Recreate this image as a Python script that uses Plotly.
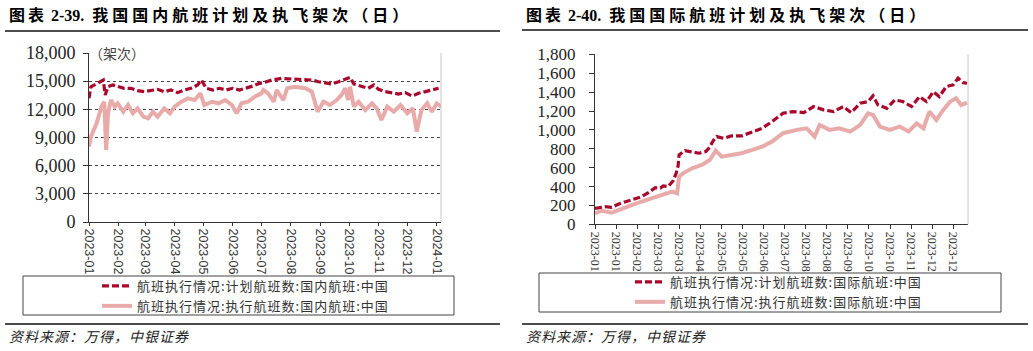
import plotly.graph_objects as go
import pandas as pd

W, H = 1033, 351
BASE = pd.Timestamp("2023-01-01")

# ---------------- data (day offset from 2023-01-01, values in 架次) ----------------
dom_plan_day = [0, 2, 9, 15, 17, 20, 25, 30, 37, 44, 51, 58, 65, 72, 79, 86, 93, 100, 107, 114,
                118, 123, 130, 137, 144, 151, 158, 165, 172, 179, 183, 192, 202, 213, 223, 234, 241, 248, 255, 262,
                269, 274, 278, 286, 293, 299, 304, 311, 318, 325, 332, 339, 346, 353, 360, 367]
dom_plan_val = [13170, 14410, 14770, 15120, 13530, 14410, 14590, 14410, 14240, 14240, 13990, 13880, 13990, 14130, 13880,
                14060, 13780, 14060, 14240, 14590, 15120, 14240, 14060, 14240, 14060, 14240, 14060, 14240, 14480, 14770,
                14840, 15120, 15300, 15230, 15190, 15120, 14940, 14840, 14700, 14940, 15190, 15410, 14700, 14410, 14240,
                14590, 14130, 13880, 13780, 13630, 13780, 13420, 13710, 13880, 14130, 14240]

dom_exec_day = [0, 2, 8, 13, 16, 18, 20, 23, 27, 30, 36, 41, 46, 51, 57, 62, 67, 72, 79, 85,
                90, 97, 104, 111, 117, 121, 129, 136, 143, 150, 155, 160, 167, 174, 181, 183, 188, 194, 197, 204,
                208, 216, 227, 234, 240, 246, 253, 260, 265, 269, 272, 274, 278, 283, 290, 297, 302, 307, 313, 320,
                327, 334, 340, 344, 349, 355, 360, 365, 370]
dom_exec_val = [8020, 9090, 10510, 12280, 12810, 7670, 11580, 12990, 12280, 12640, 11750, 12460, 11580, 12100, 11220,
                11040, 11750, 11220, 12100, 11580, 12280, 12810, 13170, 12990, 13700, 12460, 12810, 12640, 12990, 12460,
                11580, 12640, 12810, 13350, 13700, 14060, 13700, 12810, 14060, 12990, 14240, 14410, 14240, 13880, 11750,
                12810, 12460, 12990, 13530, 14240, 12990, 14410, 12280, 12810, 11930, 12640, 12100, 10860, 12280, 11750,
                12460, 11580, 12100, 9620, 11930, 12640, 11750, 12640, 12280]

intl_plan_day = [0, 10, 17, 24, 31, 41, 47, 54, 61, 66, 69, 74, 79, 82, 84, 85, 91, 98, 105, 112,
                 115, 120, 123, 130, 138, 148, 159, 169, 179, 187, 190, 200, 211, 221, 231, 241, 251, 259, 268, 276,
                 281, 286, 295, 303, 311, 320, 328, 335, 342, 348, 355, 362, 367, 372, 376]
intl_plan_val = [170, 187, 181, 216, 240, 276, 293, 336, 389, 385, 406, 400, 463, 541, 618, 735, 781, 767, 753, 770,
                 806, 894, 929, 911, 936, 936, 982, 1017, 1088, 1158, 1176, 1194, 1183, 1247, 1212, 1194, 1247, 1183, 1282, 1300,
                 1360, 1264, 1229, 1317, 1300, 1247, 1352, 1300, 1405, 1352, 1458, 1476, 1547, 1500, 1494]

intl_exec_day = [0, 7, 17, 27, 37, 47, 58, 68, 78, 83, 85, 89, 98, 108, 116, 122, 128, 138, 148, 159,
                 169, 179, 187, 190, 204, 214, 222, 227, 237, 247, 258, 268, 276, 281, 288, 298, 308, 317, 325, 332,
                 338, 345, 352, 359, 365, 370, 376]
intl_exec_val = [117, 145, 124, 170, 205, 240, 276, 311, 346, 328, 505, 541, 594, 629, 682, 781, 717, 735, 753, 788,
                 823, 876, 947, 965, 1000, 1017, 929, 1053, 1000, 1017, 982, 1053, 1176, 1158, 1035, 1000, 1035, 982, 1070, 1017,
                 1194, 1105, 1211, 1300, 1335, 1264, 1289]

intl_tick_text = ["2023-01", "2023-01", "2023-02", "2023-03", "2023-03", "2023-04", "2023-05", "2023-05", "2023-06",
                  "2023-07", "2023-08", "2023-08", "2023-09", "2023-10", "2023-10", "2023-11", "2023-12", "2023-12"]

names = {
    "dp": "航班执行情况:计划航班数:国内航班:中国",
    "de": "航班执行情况:执行航班数:国内航班:中国",
    "ip": "航班执行情况:计划航班数:国际航班:中国",
    "ie": "航班执行情况:执行航班数:国际航班:中国",
}
title_prefix = ["图表 2-39.", "图表 2-40."]
title_body = ["我国国内航班计划及执飞架次（日）", "我国国际航班计划及执飞架次（日）"]
source = "资料来源：万得，中银证券"
unit_text = "（架次）"

PLAN_C = "#A9072B"
EXEC_C = "#E9ABAA"


def dates(days):
    return BASE + pd.to_timedelta(days, unit="D")


def fx(px):
    return px / W


def fy(py):
    return 1 - py / H


def spaced(t, s):
    return f'<span style="letter-spacing:{s}px">{t}</span>'


fig = go.Figure()
fig.add_trace(go.Scatter(x=dates(dom_exec_day), y=dom_exec_val, mode="lines", name=spaced(names["de"], 1),
                         line=dict(color=EXEC_C, width=4), xaxis="x", yaxis="y", legend="legend", legendrank=2))
fig.add_trace(go.Scatter(x=dates(dom_plan_day), y=dom_plan_val, mode="lines", name=spaced(names["dp"], 1),
                         line=dict(color=PLAN_C, width=3.2, dash="7px,3px"), xaxis="x", yaxis="y", legend="legend", legendrank=1))
fig.add_trace(go.Scatter(x=dates(intl_exec_day), y=intl_exec_val, mode="lines", name=spaced(names["ie"], 1),
                         line=dict(color=EXEC_C, width=4), xaxis="x2", yaxis="y2", legend="legend2", legendrank=2))
fig.add_trace(go.Scatter(x=dates(intl_plan_day), y=intl_plan_val, mode="lines", name=spaced(names["ip"], 1),
                         line=dict(color=PLAN_C, width=3.2, dash="7px,3px"), xaxis="x2", yaxis="y2", legend="legend2", legendrank=1))

tick_font_x1 = dict(family="Liberation Sans, Arial", size=12.5, color="#333")
tick_font_x2 = dict(family="Liberation Serif, Times New Roman", size=12, color="#333")
tick_font_y1 = dict(family="Liberation Serif, Times New Roman", size=18, color="#222")
tick_font_y2 = dict(family="Liberation Serif, Times New Roman", size=17, color="#222")

right_ticks = [BASE + pd.Timedelta(days=21.3 * k) for k in range(len(intl_tick_text))]

fig.update_layout(
    width=W, height=H, autosize=False,
    margin=dict(l=0, r=0, t=0, b=0, pad=0),
    paper_bgcolor="white", plot_bgcolor="white",
    xaxis=dict(domain=[fx(89), fx(441)], anchor="y", type="date", automargin=False,
               range=[BASE, BASE + pd.Timedelta(days=369.5)],
               tick0="2023-01-01", dtick="M1", tickformat="%Y-%m", tickangle=90,
               tickfont=tick_font_x1, ticks="outside", ticklen=3, tickcolor="#333",
               showline=True, linecolor="#333", linewidth=1, showgrid=False, zeroline=False),
    yaxis=dict(domain=[fy(222), fy(53)], anchor="x", range=[0, 18000], dtick=3000, tickformat=",d",
               automargin=False, ticklabelstandoff=4,
               tickfont=tick_font_y1, ticks="outside", ticklen=5, tickcolor="#333",
               showline=True, linecolor="#333", linewidth=1,
               showgrid=True, gridcolor="#444", griddash="dot", gridwidth=1, zeroline=False),
    xaxis2=dict(domain=[fx(595), fx(968)], anchor="y2", type="date", automargin=False,
                range=[BASE, BASE + pd.Timedelta(days=377)],
                tickvals=right_ticks, ticktext=intl_tick_text, tickangle=90,
                tickfont=tick_font_x2, ticks="outside", ticklen=4, tickcolor="#333",
                showline=True, linecolor="#333", linewidth=1, showgrid=False, zeroline=False),
    yaxis2=dict(domain=[fy(224.4), fy(54.3)], anchor="x2", range=[0, 1800], dtick=200, tickformat=",d",
                automargin=False,
                tickfont=tick_font_y2, ticks="outside", ticklen=5, tickcolor="#333", ticklabelstandoff=10,
                showline=True, linecolor="#333", linewidth=1, showgrid=False, zeroline=False),
    legend=dict(x=fx(97), y=fy(271), xanchor="left", yanchor="top", bgcolor="rgba(0,0,0,0)", borderwidth=0,
                font=dict(family="Noto Sans CJK SC", size=13, color="#333"), itemclick=False, itemdoubleclick=False),
    legend2=dict(x=fx(630), y=fy(267), xanchor="left", yanchor="top", bgcolor="rgba(0,0,0,0)", borderwidth=0,
                 font=dict(family="Noto Sans CJK SC", size=13, color="#333"), itemclick=False, itemdoubleclick=False),
)

shapes = []
# title / footer rules
for (x0, x1, y) in [(5, 500, 31), (522, 1028, 30), (5, 500, 324), (522, 1028, 324)]:
    shapes.append(dict(type="line", xref="paper", yref="paper", x0=fx(x0), x1=fx(x1), y0=fy(y), y1=fy(y),
                       line=dict(color="#111", width=1.5)))
# legend boxes
for (x0, y0, x1, y1) in [(23, 276, 454, 315), (539, 273, 1001, 312)]:
    shapes.append(dict(type="rect", xref="paper", yref="paper", x0=fx(x0), x1=fx(x1), y0=fy(y1), y1=fy(y0),
                       line=dict(color="#444", width=1), fillcolor="rgba(0,0,0,0)"))
# right frame lines
for xr, yr in [("x domain", "y domain"), ("x2 domain", "y2 domain")]:
    shapes.append(dict(type="line", xref=xr, yref=yr, x0=1, x1=1, y0=0, y1=1, line=dict(color="#c8c8c8", width=1)))
fig.update_layout(shapes=shapes)

ann = []
for p, b, x in zip(title_prefix, title_body, [7, 524]):
    ann.append(dict(text="<b>" + spaced(p.split(" ")[0], 3) + " " + p.split(" ")[1] + "  " + spaced(b, 4) + "</b>",
                    xref="paper", yref="paper", x=fx(x), y=fy(15),
                    xanchor="left", yanchor="middle", showarrow=False,
                    font=dict(family="Liberation Serif, Noto Sans CJK SC", size=16, color="#000")))
for x in [7, 524]:
    ann.append(dict(text="<i>" + spaced(source, 1) + "</i>", xref="paper", yref="paper", x=fx(x), y=fy(336),
                    xanchor="left", yanchor="middle", showarrow=False,
                    font=dict(family="Noto Sans CJK SC", size=14, color="#222")))
ann.append(dict(text=unit_text, xref="paper", yref="paper", x=fx(117), y=fy(53), xanchor="center", yanchor="middle",
                showarrow=False, font=dict(family="Noto Sans CJK SC", size=14, color="#444")))
fig.update_layout(annotations=ann)

fig.write_html("out.html")
